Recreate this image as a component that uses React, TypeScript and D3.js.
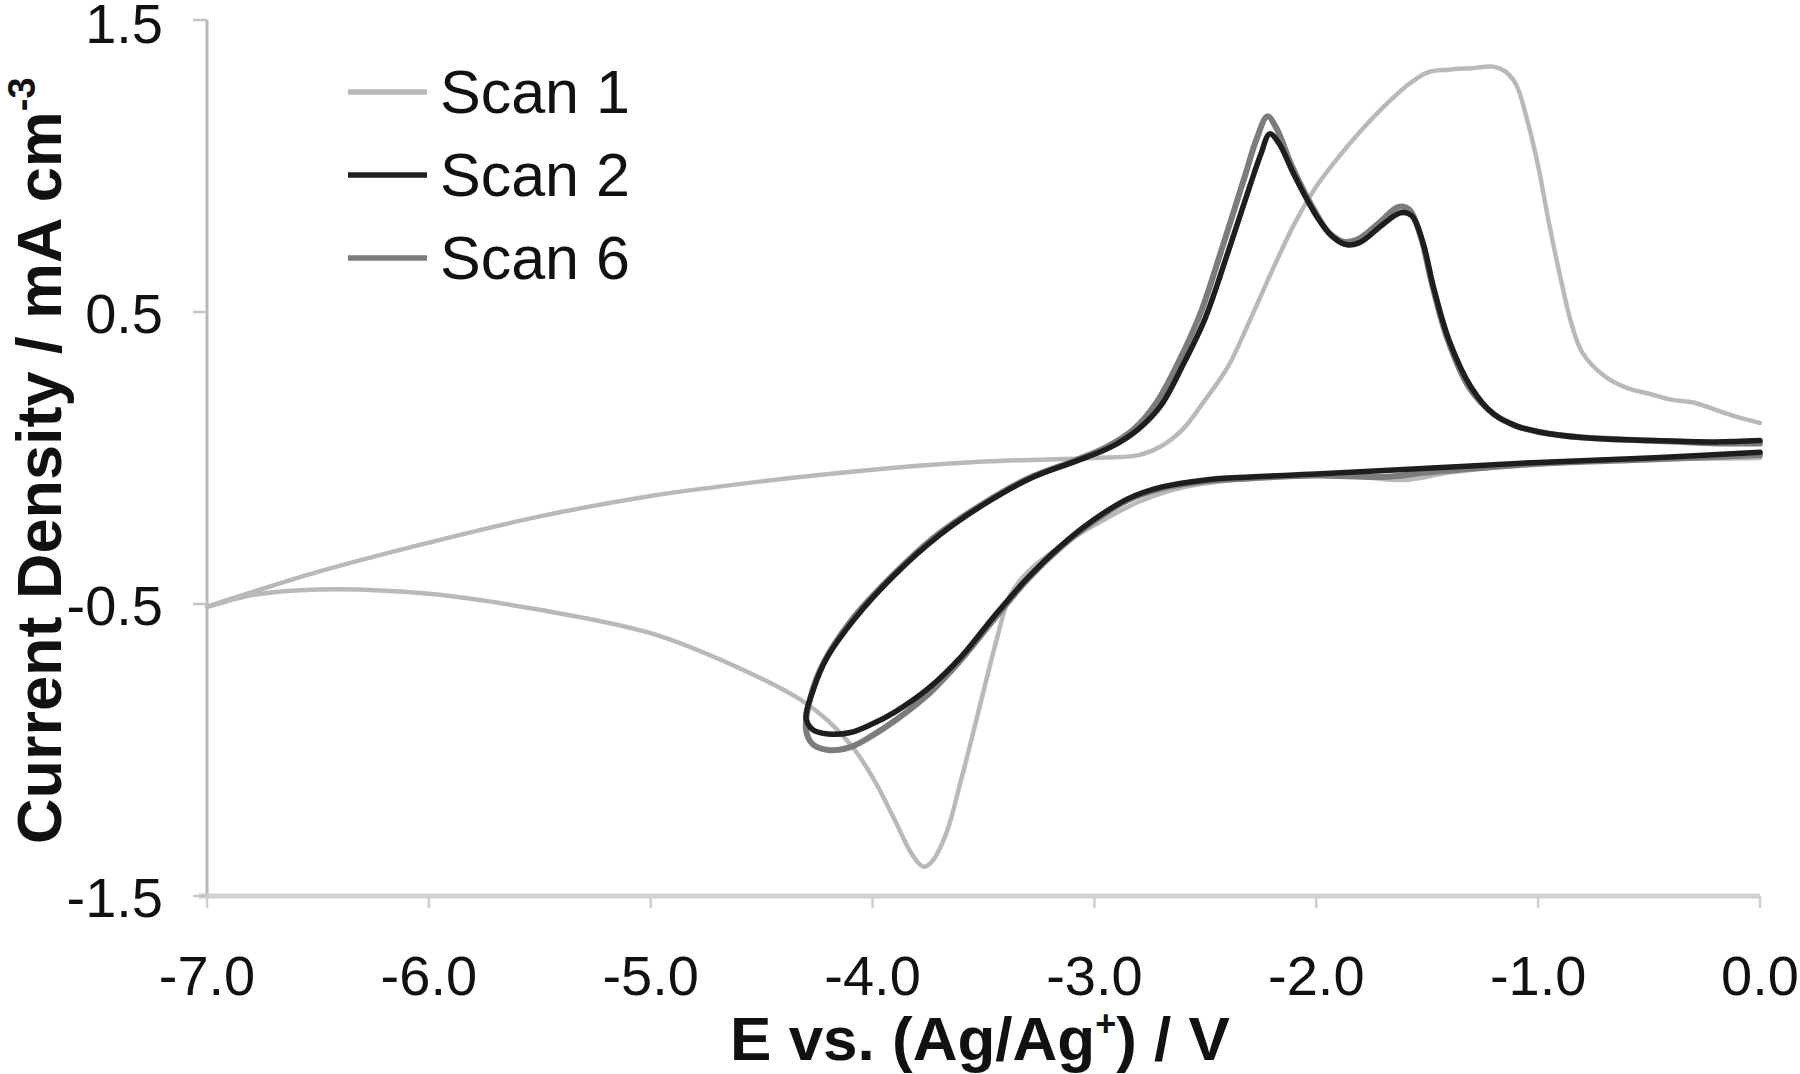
import React from "react";
import * as d3 from "d3";

// ---------- data ----------
const xTickValues = [-7, -6, -5, -4, -3, -2, -1, 0];
const yTickValues = [1.5, 0.5, -0.5, -1.5];

// Scan 1: cathodic sweep 0 -> -7, then anodic -7 -> 0
const scan1E = [
  0.0, -0.5, -1.0, -1.4, -1.6, -1.8, -2.0, -2.3, -2.6, -2.8, -3.0, -3.15, -3.3, -3.38,
  -3.44, -3.52, -3.6, -3.67, -3.73, -3.77, -3.82, -3.9, -3.98, -4.08, -4.2, -4.32, -4.6,
  -5.0, -5.5, -6.0, -6.5, -6.8, -7.0,
  -6.8, -6.5, -6.0, -5.5, -5.0, -4.5, -4.0, -3.5, -3.0, -2.8, -2.7, -2.6, -2.5, -2.4,
  -2.3, -2.2, -2.1, -2.0, -1.9, -1.8, -1.7, -1.6, -1.5, -1.4, -1.3, -1.2, -1.15, -1.1,
  -1.05, -1.0, -0.95, -0.9, -0.85, -0.8, -0.7, -0.6, -0.5, -0.4, -0.3, -0.2, -0.1, 0.0,
];
const scan1I = [
  0.0, -0.005, -0.02, -0.05, -0.075, -0.065, -0.06, -0.07, -0.1, -0.15, -0.23, -0.3, -0.39, -0.47,
  -0.62, -0.86, -1.1, -1.29, -1.38, -1.4, -1.36, -1.24, -1.12, -1.0, -0.9, -0.83, -0.72,
  -0.6, -0.52, -0.465, -0.45, -0.47, -0.51,
  -0.46, -0.39, -0.29, -0.2, -0.13, -0.08, -0.04, -0.012, 0.0, 0.01, 0.04, 0.1, 0.2, 0.31,
  0.47, 0.64, 0.8, 0.93, 1.03, 1.12, 1.2, 1.27, 1.32, 1.33, 1.335, 1.34, 1.325, 1.28,
  1.16, 1.0, 0.8, 0.62, 0.46, 0.36, 0.28, 0.24, 0.22, 0.2, 0.19, 0.165, 0.14, 0.12,
];

// Scan 2: cathodic sweep 0 -> -4.3, then anodic -4.3 -> 0
const scan2E = [
  0.0, -0.5, -1.0, -1.5, -2.0, -2.3, -2.5, -2.7, -2.85, -3.0, -3.15, -3.3, -3.45, -3.6,
  -3.75, -3.9, -4.0, -4.1, -4.2, -4.27, -4.3,
  -4.27, -4.21, -4.08, -3.9, -3.7, -3.49, -3.28, -3.08, -2.92, -2.8, -2.7, -2.6, -2.5,
  -2.4, -2.3, -2.25, -2.21, -2.17, -2.1, -2.0, -1.93, -1.86, -1.8, -1.7, -1.62, -1.57,
  -1.52, -1.47, -1.4, -1.3, -1.2, -1.1, -1.0, -0.8, -0.5, -0.2, 0.0,
];
const scan2I = [
  0.02, 0.0, -0.015, -0.035, -0.055, -0.065, -0.075, -0.1, -0.14, -0.21, -0.3, -0.41, -0.54, -0.68,
  -0.79, -0.87, -0.91, -0.94, -0.945, -0.93, -0.89,
  -0.8, -0.69, -0.55, -0.4, -0.265, -0.155, -0.067, -0.01, 0.04, 0.1, 0.18, 0.32, 0.48,
  0.7, 0.93, 1.04, 1.11, 1.08, 0.97, 0.83, 0.76, 0.73, 0.74, 0.8, 0.84, 0.83,
  0.74, 0.58, 0.4, 0.24, 0.15, 0.11, 0.09, 0.07, 0.06, 0.055, 0.06,
];

// Scan 6: cathodic sweep 0 -> -4.3, then anodic -4.3 -> 0
const scan6E = [
  0.0, -0.5, -1.0, -1.5, -1.7, -2.0, -2.3, -2.5, -2.7, -2.85, -3.0, -3.15, -3.3, -3.45, -3.6,
  -3.75, -3.9, -4.0, -4.1, -4.2, -4.27, -4.3,
  -4.28, -4.22, -4.1, -3.92, -3.72, -3.51, -3.3, -3.1, -2.94, -2.82, -2.72, -2.62, -2.52,
  -2.42, -2.32, -2.27, -2.22, -2.18, -2.11, -2.01, -1.94, -1.87, -1.81, -1.71, -1.63, -1.58,
  -1.53, -1.48, -1.41, -1.31, -1.2, -1.1, -1.0, -0.8, -0.5, -0.2, 0.0,
];
const scan6I = [
  0.01, -0.005, -0.02, -0.05, -0.065, -0.06, -0.07, -0.08, -0.105, -0.145, -0.215, -0.305, -0.415, -0.55, -0.69,
  -0.81, -0.9, -0.95, -0.99, -1.0, -0.98, -0.93,
  -0.82, -0.7, -0.56, -0.41, -0.27, -0.16, -0.07, -0.012, 0.04, 0.1, 0.19, 0.33, 0.5,
  0.73, 0.97, 1.09, 1.17, 1.13, 1.0, 0.85, 0.77, 0.74, 0.75, 0.81, 0.86, 0.85,
  0.76, 0.6, 0.41, 0.24, 0.15, 0.11, 0.09, 0.07, 0.06, 0.05, 0.05,
];

const seriesNames = ["Scan 1", "Scan 2", "Scan 6"];
const seriesColors = ["#b9b9b9", "#1e1e1e", "#7c7c7c"];

// ---------- layout ----------
const W = 1800;
const H = 1074;
const X0 = 207;
const X1 = 1760;
const Y0 = 896;
const Y1 = 20;

export default function App() {
  const x = d3.scaleLinear().domain([-7, 0]).range([X0, X1]);
  const y = d3.scaleLinear().domain([-1.5, 1.5]).range([Y0, Y1]);

  const line = d3
    .line<[number, number]>()
    .x((d) => x(d[0]))
    .y((d) => y(d[1]))
    .curve(d3.curveCatmullRom.alpha(0.5));

  const zip = (a: number[], b: number[]) => a.map((v, i) => [v, b[i]] as [number, number]);
  const scans = [zip(scan1E, scan1I), zip(scan2E, scan2I), zip(scan6E, scan6I)];
  const drawOrder = [0, 2, 1];
  const widths = [4.5, 5.5, 6];

  const font = "'Liberation Sans', Arial, Helvetica, sans-serif";

  return (
    <svg
      width={W}
      height={H}
      style={{ position: "absolute", left: 0, top: 0, display: "block", background: "#fff" }}
      fontFamily={font}
    >
      <rect width={W} height={H} fill="#fff" />
      {/* axes */}
      <line x1={X0} x2={X0} y1={y(1.5)} y2={Y0} stroke="#b8b8b8" strokeWidth={3} />
      <line x1={X0 - 8} x2={X1} y1={Y0} y2={Y0} stroke="#d2d2d2" strokeWidth={5} />
      {yTickValues.map((v) => (
        <g key={"yt" + v}>
          <line x1={X0 - 14} x2={X0} y1={y(v)} y2={y(v)} stroke="#c4c4c4" strokeWidth={2.5} />
          <text x={163} y={Math.max(y(v) + 21, 43)} textAnchor="end" fontSize={56} fill="#111">
            {v.toFixed(1)}
          </text>
        </g>
      ))}
      {xTickValues.map((v) => (
        <g key={"xt" + v}>
          <line x1={x(v)} x2={x(v)} y1={Y0} y2={Y0 + 12} stroke="#cfcfcf" strokeWidth={2.5} />
          <text x={x(v)} y={995} textAnchor="middle" fontSize={56} fill="#111">
            {v.toFixed(1)}
          </text>
        </g>
      ))}

      {/* curves */}
      {drawOrder.map((i) => (
        <path
          key={"s" + i}
          d={line(scans[i]) || ""}
          fill="none"
          stroke={seriesColors[i]}
          strokeWidth={widths[i]}
          strokeLinejoin="round"
          strokeLinecap="round"
        />
      ))}

      {/* legend */}
      {seriesNames.map((name, i) => (
        <g key={name}>
          <line
            x1={348}
            x2={427}
            y1={92 + i * 83}
            y2={92 + i * 83}
            stroke={seriesColors[i]}
            strokeWidth={5.5}
          />
          <text x={440} y={113 + i * 83} fontSize={61} fill="#111">
            {name}
          </text>
        </g>
      ))}

      {/* axis titles */}
      <text x={980} y={1060} textAnchor="middle" fontSize={62} fontWeight="bold" fill="#111">
        E vs. (Ag/Ag
        <tspan dy={-24} fontSize={36}>
          +
        </tspan>
        <tspan dy={24}>) / V</tspan>
      </text>
      <text
        transform="translate(61,844) rotate(-90)"
        textAnchor="start"
        fontSize={63}
        fontWeight="bold"
        fill="#111"
      >
        Current Density / mA cm
        <tspan dy={-26} fontSize={38}>
          -3
        </tspan>
      </text>
    </svg>
  );
}
